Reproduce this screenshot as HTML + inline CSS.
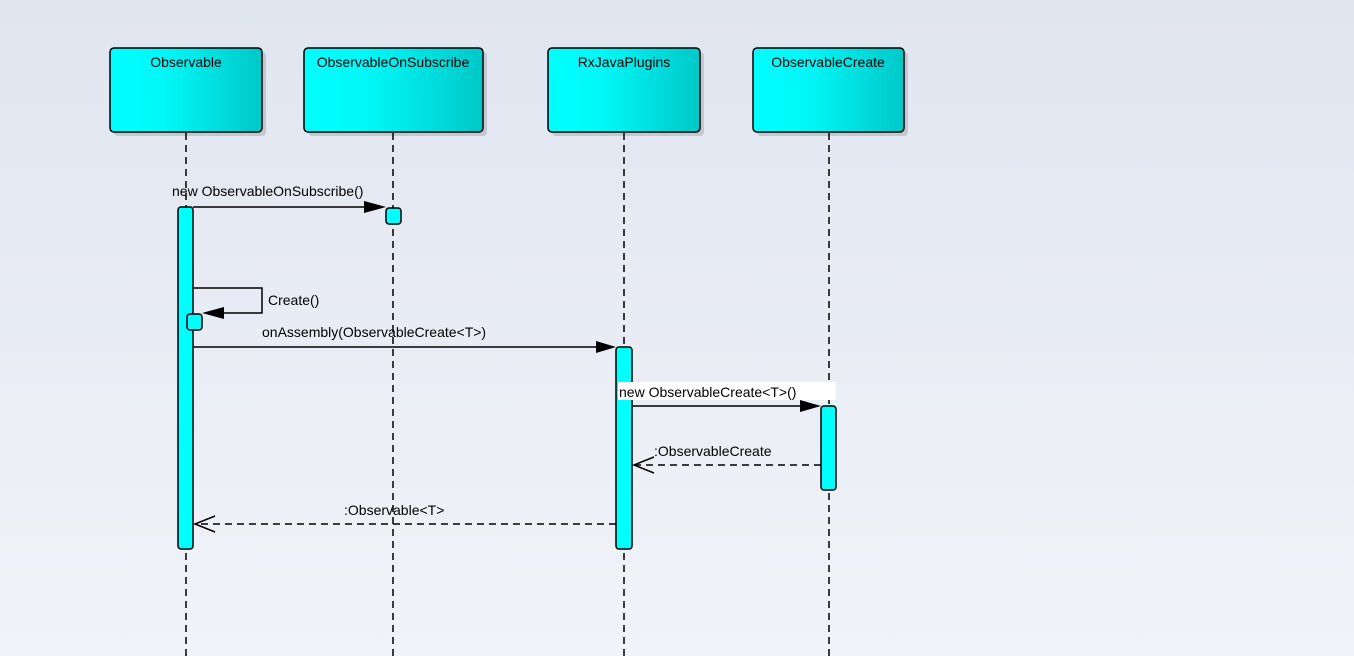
<!DOCTYPE html>
<html><head><style>
body{margin:0;width:1354px;height:656px;overflow:hidden;background:linear-gradient(#e0e5f0,#f1f3f8);}
svg{display:block}
text{font-family:"Liberation Sans",Arial,sans-serif;font-size:14px;fill:#000}
</style></head><body>
<svg width="1354" height="656" viewBox="0 0 1354 656">
<defs>
<linearGradient id="g" x1="0" x2="1" y1="0" y2="0"><stop offset="0" stop-color="#00ffff"/><stop offset="0.35" stop-color="#00f8f8"/><stop offset="1" stop-color="#00c8c8"/></linearGradient>
</defs>
<g fill="#c4c8d0">
<rect x="114" y="52" width="152" height="84" rx="4"/>
<rect x="308" y="52" width="179" height="84" rx="4"/>
<rect x="552" y="52" width="152" height="84" rx="4"/>
<rect x="757" y="52" width="151" height="84" rx="4"/>
</g>
<g stroke="#000" stroke-width="1.5" fill="url(#g)">
<rect x="110" y="48" width="152" height="84" rx="4"/>
<rect x="304" y="48" width="179" height="84" rx="4"/>
<rect x="548" y="48" width="152" height="84" rx="4"/>
<rect x="753" y="48" width="151" height="84" rx="4"/>
</g>
<text x="186" y="67" text-anchor="middle">Observable</text>
<text x="393" y="67" text-anchor="middle">ObservableOnSubscribe</text>
<text x="624" y="67" text-anchor="middle">RxJavaPlugins</text>
<text x="828" y="67" text-anchor="middle">ObservableCreate</text>
<g stroke="#000" stroke-width="1.5" stroke-dasharray="7,5">
<line x1="186" y1="133" x2="186" y2="656"/>
<line x1="393" y1="133" x2="393" y2="656"/>
<line x1="624" y1="133" x2="624" y2="656"/>
<line x1="829" y1="133" x2="829" y2="656"/>
</g>
<g stroke="#000" stroke-width="1.5" fill="#00ffff">
<rect x="178" y="207" width="15" height="342" rx="3"/>
<rect x="386" y="208" width="15" height="16" rx="3"/>
<rect x="187" y="314" width="15" height="16" rx="3"/>
<rect x="616" y="347" width="16" height="202" rx="3"/>
<rect x="821" y="406" width="15" height="84" rx="3"/>
</g>
<g stroke="#000" stroke-width="1.5" fill="none">
<line x1="193" y1="207" x2="366" y2="207"/>
<polyline points="193,288 262,288 262,313 222,313"/>
<line x1="193" y1="347" x2="596" y2="347"/>
<line x1="632" y1="406" x2="801" y2="406"/>
<line x1="821" y1="465" x2="634" y2="465" stroke-dasharray="7,5"/>
<line x1="616" y1="524" x2="195" y2="524" stroke-dasharray="7,5"/>
<polyline points="654,457 634,465 654,473"/>
<polyline points="215,516 195,524 215,532"/>
</g>
<g fill="#000">
<polygon points="364,201 386,207 364,213"/>
<polygon points="224,307 202,313 224,319"/>
<polygon points="596,341 616,347 596,353"/>
<polygon points="800,400 821,406 800,412"/>
</g>
<text x="172" y="196">new ObservableOnSubscribe()</text>
<text x="268" y="305">Create()</text>
<text x="262" y="337">onAssembly(ObservableCreate&lt;T&gt;)</text>
<rect x="618" y="382" width="218" height="18" fill="#fff"/>
<text x="619" y="397">new ObservableCreate&lt;T&gt;()</text>
<text x="654" y="456">:ObservableCreate</text>
<text x="344" y="515">:Observable&lt;T&gt;</text>
</svg>
</body></html>
